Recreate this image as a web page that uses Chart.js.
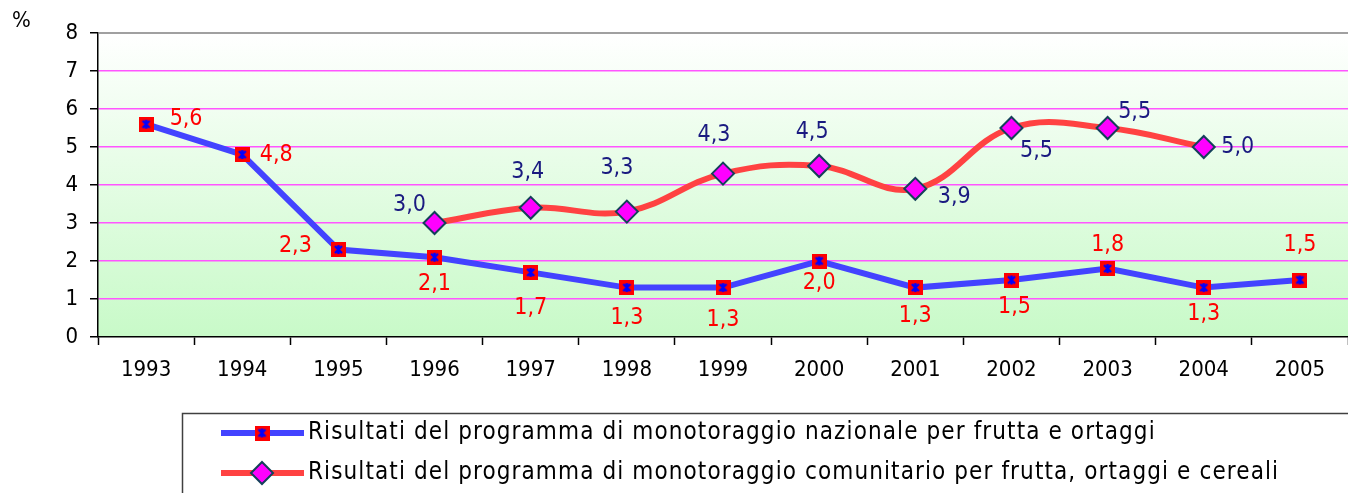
<!DOCTYPE html>
<html>
<head>
<meta charset="utf-8">
<script src="https://cdn.jsdelivr.net/npm/chart.js@4.4.1/dist/chart.umd.min.js"></script>
<style>
  html, body { margin: 0; padding: 0; background: #fff; overflow: hidden; }
  #wrap { width: 1348px; height: 493px; position: relative; overflow: hidden; }
</style>
</head>
<body>
<!-- canvas is a bit wider than the window: Chart.js keeps a small right gap that the original does not have -->
<div id="wrap"><canvas id="chart" width="1362" height="493"></canvas></div>
<script>
// --- data ---
const anni = ['1993', '1994', '1995', '1996', '1997', '1998', '1999', '2000', '2001', '2002', '2003', '2004', '2005']
const nazionale = [5.6, 4.8, 2.3, 2.1, 1.7, 1.3, 1.3, 2.0, 1.3, 1.5, 1.8, 1.3, 1.5]
const comunitario = [null, null, null, 3.0, 3.4, 3.3, 4.3, 4.5, 3.9, 5.5, 5.5, 5.0, null]
const yTicks = [0, 1, 2, 3, 4, 5, 6, 7, 8]
const legendLabels = [
  'Risultati del programma di monotoraggio nazionale per frutta e ortaggi',
  'Risultati del programma di monotoraggio comunitario per frutta, ortaggi e cereali',
]

const FONT = '"DejaVu Sans Condensed", "DejaVu Sans", sans-serif'
const BLUE = '#4343ff'
const RED = '#ff4242'

// label placement relative to the point (Excel put each one by hand)
const nazOffsets = [[40, -5], [34, 0], [-43, -4], [0, 27], [0, 36], [0, 30], [0, 32], [0, 22], [0, 28], [3, 27], [0, -24], [0, 26], [0, -35]]
const comOffsets = [null, null, null, [-25, -18], [-3, -36], [-10, -44], [-9, -39], [-7, -34], [39, 8], [25, 23], [27, -16], [34, 0], null]

// red square with a blue star, as used by Excel for the national series
function squareStar() {
  const c = document.createElement('canvas')
  c.width = 15; c.height = 15
  const g = c.getContext('2d')
  g.fillStyle = '#ff0000'
  g.fillRect(0, 0, 15, 15)
  g.strokeStyle = '#0000ff'
  g.lineWidth = 2.4
  g.beginPath()
  g.moveTo(4, 4); g.lineTo(11, 11)
  g.moveTo(11, 4); g.lineTo(4, 11)
  g.moveTo(7.5, 3); g.lineTo(7.5, 12)
  g.stroke()
  return c
}
const starMarker = squareStar()

const fmt = v => v.toFixed(1).replace('.', ',')

const plotBackground = {
  id: 'plotBackground',
  beforeDraw(chart) {
    const { ctx, chartArea: a } = chart
    const grad = ctx.createLinearGradient(0, a.top, 0, a.bottom)
    grad.addColorStop(0, '#ffffff')
    grad.addColorStop(1, '#c8fac8')
    ctx.save()
    ctx.fillStyle = grad
    ctx.fillRect(a.left, a.top, a.right - a.left, a.bottom - a.top)
    ctx.restore()
  },
}

const dataLabels = {
  id: 'dataLabels',
  afterDatasetsDraw(chart) {
    const { ctx } = chart
    const cfg = [
      { offsets: nazOffsets, color: '#ff0000' },
      { offsets: comOffsets, color: '#1a1a80' },
    ]
    ctx.save()
    ctx.font = `23px ${FONT}`
    ctx.textAlign = 'center'
    ctx.textBaseline = 'middle'
    chart.data.datasets.forEach((ds, di) => {
      const meta = chart.getDatasetMeta(di)
      ctx.fillStyle = cfg[di].color
      meta.data.forEach((pt, i) => {
        const v = ds.data[i]
        const off = cfg[di].offsets[i]
        if (v == null || !off) return
        ctx.fillText(fmt(v), pt.x + off[0], pt.y + off[1])
      })
    })
    ctx.restore()
  },
}

const extras = {
  id: 'extras',
  afterDraw(chart) {
    const { ctx, chartArea: a } = chart
    ctx.save()
    // top frame line
    ctx.strokeStyle = '#808080'
    ctx.lineWidth = 1.5
    ctx.beginPath()
    ctx.moveTo(a.left, a.top); ctx.lineTo(a.right, a.top)
    ctx.stroke()
    // unit
    ctx.fillStyle = '#000'
    ctx.font = `22px ${FONT}`
    ctx.textAlign = 'left'
    ctx.textBaseline = 'middle'
    ctx.fillText('%', 12, 21)

    // legend box
    ctx.strokeStyle = '#404040'
    ctx.lineWidth = 1.5
    ctx.beginPath()
    ctx.moveTo(182.5, 500); ctx.lineTo(182.5, 413.5); ctx.lineTo(1370, 413.5)
    ctx.stroke()

    const rows = [433, 473]
    const ds = chart.data.datasets
    rows.forEach((y, i) => {
      ctx.strokeStyle = ds[i].borderColor
      ctx.lineWidth = 6
      ctx.beginPath()
      ctx.moveTo(221, y); ctx.lineTo(304, y)
      ctx.stroke()
      if (i === 0) {
        ctx.drawImage(starMarker, 262 - 7.5, y - 7.5)
      } else {
        ctx.fillStyle = '#ff00ff'
        ctx.strokeStyle = '#14405a'
        ctx.lineWidth = 2
        ctx.beginPath()
        ctx.moveTo(262, y - 11); ctx.lineTo(273, y); ctx.lineTo(262, y + 11); ctx.lineTo(251, y)
        ctx.closePath()
        ctx.fill(); ctx.stroke()
      }
      ctx.fillStyle = '#000'
      ctx.font = `24px ${FONT}`
      ctx.letterSpacing = '1.1px'
      ctx.textAlign = 'left'
      ctx.textBaseline = 'middle'
      ctx.fillText(legendLabels[i], 308, y)
      ctx.letterSpacing = '0px'
    })
    ctx.restore()
  },
}

new Chart(document.getElementById('chart'), {
  type: 'line',
  data: {
    labels: anni,
    datasets: [
      {
        label: legendLabels[0],
        data: nazionale,
        borderColor: BLUE,
        borderWidth: 6,
        tension: 0,
        pointStyle: starMarker,
        pointRadius: 8,
      },
      {
        label: legendLabels[1],
        data: comunitario,
        borderColor: RED,
        borderWidth: 6,
        tension: 0.4,
        pointStyle: 'rectRot',
        pointRadius: 11,
        pointBackgroundColor: '#ff00ff',
        pointBorderColor: '#14405a',
        pointBorderWidth: 2,
      },
    ],
  },
  options: {
    responsive: false,
    animation: false,
    layout: { padding: { top: 33, right: 0, left: 0, bottom: 0 } },
    plugins: { legend: { display: false }, tooltip: { enabled: false } },
    scales: {
      x: {
        offset: true,
        afterFit: s => { s.height = 156 },
        grid: { offset: true, drawOnChartArea: false, tickLength: 8, tickColor: '#000', tickWidth: 1.5 },
        border: { color: '#000', width: 1.5 },
        ticks: { color: '#000', font: { family: FONT, size: 22 }, padding: 12, maxRotation: 0 },
      },
      y: {
        min: 0, max: 8,
        afterFit: s => { s.width = 98 },
        afterBuildTicks: s => { s.ticks = yTicks.map(v => ({ value: v })) },
        grid: {
          color: c => (c.tick.value === 0 || c.tick.value === 8) ? 'rgba(0,0,0,0)' : '#ff55ff',
          lineWidth: 1.5,
          tickLength: 8,
          tickColor: '#000',
          tickWidth: 1.5,
        },
        border: { color: '#000', width: 1.5 },
        ticks: { color: '#000', font: { family: FONT, size: 22 }, padding: 12 },
      },
    },
  },
  plugins: [plotBackground, dataLabels, extras],
})
</script>
</body>
</html>
